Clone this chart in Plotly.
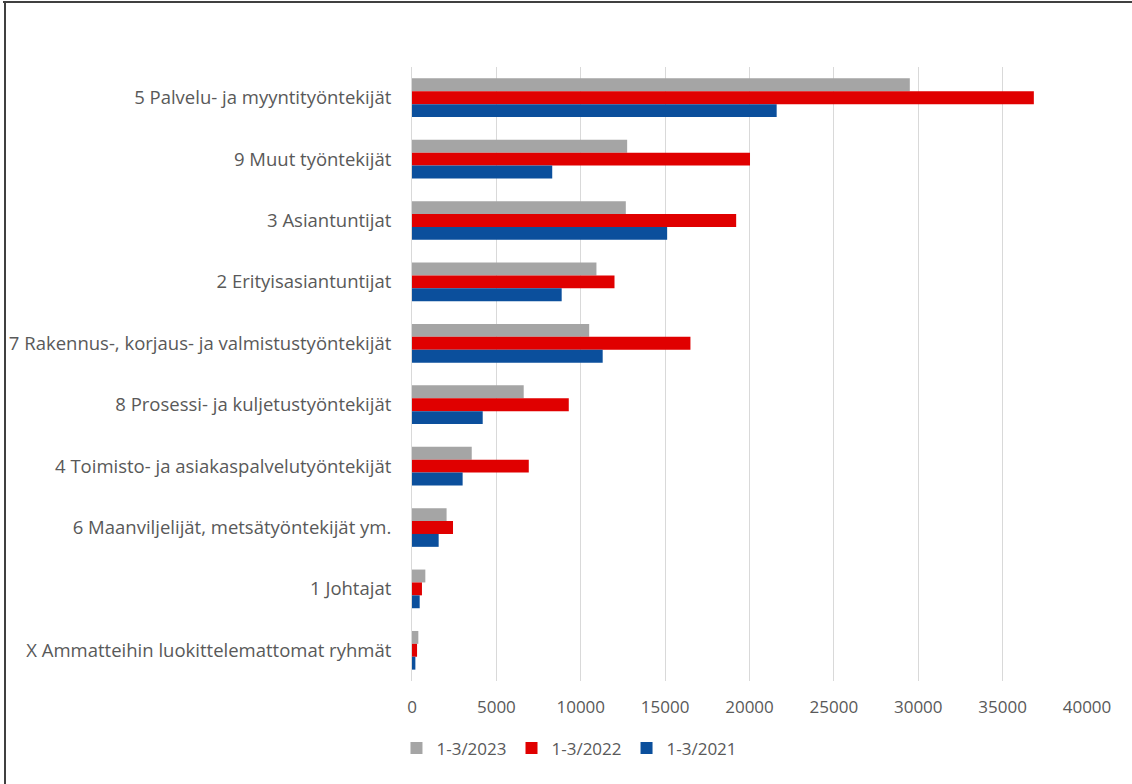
import plotly.graph_objects as go

categories = [
    "5 Palvelu- ja myyntityöntekijät",
    "9 Muut työntekijät",
    "3 Asiantuntijat",
    "2 Erityisasiantuntijat",
    "7 Rakennus-, korjaus- ja valmistustyöntekijät",
    "8 Prosessi- ja kuljetustyöntekijät",
    "4 Toimisto- ja asiakaspalvelutyöntekijät",
    "6 Maanviljelijät, metsätyöntekijät ym.",
    "1 Johtajat",
    "X Ammatteihin luokittelemattomat ryhmät",
]
series_names = ["1-3/2023", "1-3/2022", "1-3/2021"]
v2023 = [29500, 12750, 12670, 10930, 10500, 6620, 3540, 2050, 790, 375]
v2022 = [36850, 20030, 19210, 12000, 16500, 9290, 6920, 2430, 590, 300]
v2021 = [21610, 8310, 15120, 8870, 11300, 4190, 3000, 1580, 455, 200]
colors = ["#a5a5a5", "#e00000", "#0b4f9c"]
x_ticks = [0, 5000, 10000, 15000, 20000, 25000, 30000, 35000, 40000]

fig = go.Figure()
for name, vals, col in zip(series_names, [v2023, v2022, v2021], colors):
    fig.add_trace(go.Bar(y=categories, x=vals, name=name, orientation="h",
                         marker=dict(color=col, line=dict(width=0))))

L, R, T, B = 412, 45, 67, 103
W, H = 1132, 784
pw, ph = W - L - R, H - T - B

fig.update_layout(
    width=W, height=H,
    margin=dict(l=L, r=R, t=T, b=B, autoexpand=False),
    barmode="group", bargap=0.37, bargroupgap=0,
    paper_bgcolor="white", plot_bgcolor="white",
    font=dict(family="Open Sans", size=18, color="#595959"),
    showlegend=True,
    legend=dict(orientation="h", x=-0.023, xanchor="left", y=-0.11, yanchor="middle",
                font=dict(size=17, color="#595959"), traceorder="normal",
                itemwidth=30, tracegroupgap=0),
    xaxis=dict(range=[0, 40000], tickvals=x_ticks, ticktext=[str(t) for t in x_ticks],
               showgrid=True, gridcolor="#d9d9d9", gridwidth=1, zeroline=False,
               showline=False, ticks="", ticklabelstandoff=14, automargin=False,
               tickfont=dict(size=17, color="#595959")),
    yaxis=dict(autorange="reversed", showgrid=False, showline=True, linecolor="#d9d9d9",
               ticks="", ticklabelstandoff=16, automargin=False,
               tickfont=dict(size=18.5, color="#595959")),
    shapes=[
        dict(type="line", xref="paper", yref="paper",
             x0=(3 - L) / pw, x1=(W - L) / pw, y0=1 + (T - 2) / ph, y1=1 + (T - 2) / ph,
             line=dict(color="#404040", width=2)),
        dict(type="line", xref="paper", yref="paper",
             x0=(5 - L) / pw, x1=(5 - L) / pw, y0=1 + (T - 2) / ph, y1=-(B) / ph,
             line=dict(color="#404040", width=2)),
    ],
)
fig.write_html("out.html", config={"displayModeBar": False},
               post_script="document.body.style.margin='0px';")
